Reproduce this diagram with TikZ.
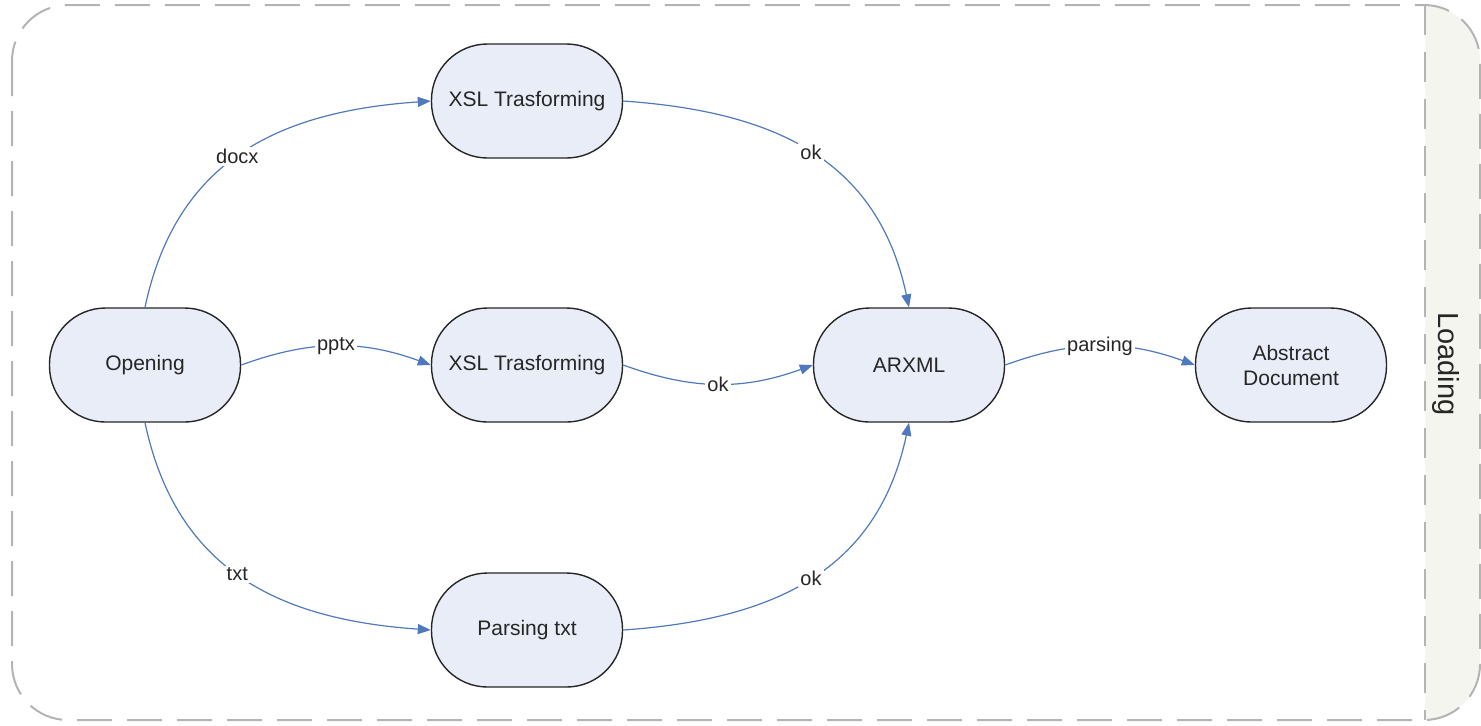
\documentclass[tikz,border=0pt]{standalone}
\usepackage{fontspec}
\setmainfont{Liberation Sans}
\usetikzlibrary{arrows.meta}
\definecolor{nodefill}{HTML}{E8EDF7}
\definecolor{flowblue}{HTML}{4E79BD}
\definecolor{framegray}{HTML}{B4B4B4}
\definecolor{bandgray}{HTML}{F5F5F0}
\begin{document}
\begin{tikzpicture}[x=.5pt,y=.5pt,line join=round,
    state/.style={draw=black!85,line width=.7pt,fill=nodefill,rounded corners=28pt,
      minimum width=95.5pt,minimum height=57pt,align=center,text=black!85,
      font=\fontsize{10.5}{12.5}\selectfont},
    flow/.style={draw=flowblue,line width=.6pt,-{Triangle[length=6.5pt,width=5pt]}},
    lbl/.style={fill=white,inner sep=1pt,text=black!85,font=\fontsize{10}{12}\selectfont}]
  \useasboundingbox (0,0) rectangle (1481,-725);
  % swimlane frame
  \begin{scope}
    \clip (1425,0) rectangle (1481,-725);
    \fill[bandgray,rounded corners=28pt] (12,-5) rectangle (1480,-720);
  \end{scope}
  \draw[framegray,line width=1pt,dash pattern=on 17.5pt off 7.5pt,rounded corners=28pt]
    (12,-5) rectangle (1480,-720);
  \draw[framegray,line width=1pt,dash pattern=on 15pt off 8.5pt] (1425,-5) -- (1425,-720);
  \node[rotate=-90,text=black!85,font=\fontsize{14.5}{18}\selectfont] (loading) at (1446,-364) {Loading};

  \node[state] (open) at (145,-365) {Opening};
  \node[state] (xsl1) at (527,-101) {XSL Trasforming};
  \node[state] (xsl2) at (527,-365) {XSL Trasforming};
  \node[state] (parse) at (527,-630) {Parsing txt};
  \node[state] (arxml) at (909,-365) {ARXML};
  \node[state] (abs) at (1291,-365) {Abstract\\Document};

  \draw[flow] (open.north) to[out=78,in=184,looseness=1.1] node[lbl,pos=.48] {docx} (xsl1.west);
  \draw[flow] (open.east) to[bend left=20] node[lbl] {pptx} (xsl2.west);
  \draw[flow] (open.south) to[out=-78,in=176,looseness=1.1] node[lbl,pos=.48] {txt} (parse.west);
  \draw[flow] (xsl1.east) to[out=-4,in=102,looseness=1.1] node[lbl,pos=.5] {ok} (arxml.north);
  \draw[flow] (xsl2.east) to[bend right=20] node[lbl] {ok} (arxml.west);
  \draw[flow] (parse.east) to[out=4,in=-102,looseness=1.1] node[lbl,pos=.5] {ok} (arxml.south);
  \draw[flow] (arxml.east) to[bend left=20] node[lbl] {parsing} (abs.west);
\end{tikzpicture}
\end{document}
